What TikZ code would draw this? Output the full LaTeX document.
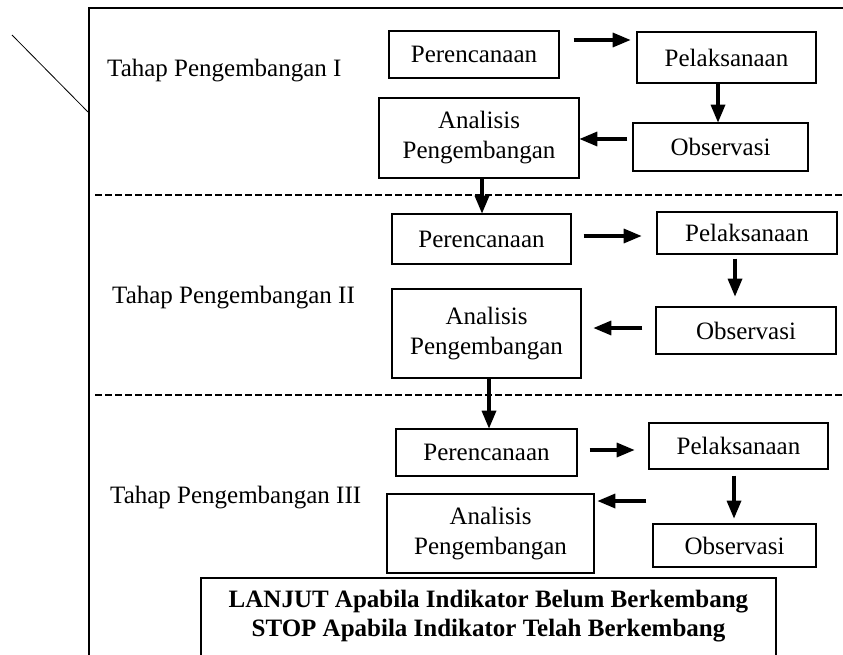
\documentclass[tikz,border=0pt]{standalone}
\usepackage{fontspec}
\setmainfont{Liberation Serif}
\usetikzlibrary{arrows}
\tikzset{
  kotak/.style={draw, line width=1.3pt, inner sep=0, align=center, font=\fontsize{25}{30}\selectfont},
  tahap/.style={anchor=west, inner sep=0, font=\fontsize{25}{30}\selectfont},
  panah/.style={line width=3.2pt, ->, >=triangle 45},
  garis/.style={line width=1.7pt, dash pattern=on 7pt off 3pt}
}

\begin{document}
\begin{tikzpicture}[x=1pt,y=-1pt]
\useasboundingbox (0,0) rectangle (843,655);
\clip (0,0) rectangle (843,655);
\draw[line width=2.4pt] (843,8) -- (89,8) -- (89,670);
\draw[line width=0.8pt] (12,35) -- (88,112);
\draw[garis] (95,195) -- (843,195);
\draw[garis] (95,395) -- (843,395);

% tahap I
\node[tahap] (tahap1) at (107,71) {Tahap Pengembangan I};
\node[kotak, minimum width=170pt, minimum height=47pt] (per1) at (474,54.5) {Perencanaan};
\node[kotak, minimum width=179pt, minimum height=51pt] (pel1) at (726.5,57.5) {Pelaksanaan};
\node[kotak, minimum width=175pt, minimum height=48pt] (obs1) at (720.5,147) {Observasi};
\node[kotak, minimum width=200pt, minimum height=80pt] (ana1) at (479,138) {Analisis\\Pengembangan};
\draw[panah] ([shift={(14,-14.5)}]per1.east) -- ([shift={(-6,-17.5)}]pel1.west);
\draw[panah] ([shift={(-8.5,0)}]pel1.south) -- ([shift={(-2.5,0)}]obs1.north);
\draw[panah] ([shift={(-5,-8)}]obs1.west) -- ([shift={(0,1)}]ana1.east);

% tahap II
\node[tahap] (tahap2) at (112,298) {Tahap Pengembangan II};
\node[kotak, minimum width=179pt, minimum height=50pt] (per2) at (481.5,239) {Perencanaan};
\node[kotak, minimum width=180pt, minimum height=42pt] (pel2) at (747,233) {Pelaksanaan};
\node[kotak, minimum width=180pt, minimum height=47pt] (obs2) at (746,330.5) {Observasi};
\node[kotak, minimum width=189pt, minimum height=89pt] (ana2) at (486.5,333.5) {Analisis\\Pengembangan};
\draw[panah] ([shift={(3,0)}]ana1.south) -- ([shift={(0.5,0)}]per2.north);
\draw[panah] ([shift={(12,-3)}]per2.east) -- ([shift={(-15,3)}]pel2.west);
\draw[panah] ([shift={(-12,4)}]pel2.south) -- ([shift={(-11,-10)}]obs2.north);
\draw[panah] ([shift={(-13,-2.5)}]obs2.west) -- ([shift={(12,-5.5)}]ana2.east);

% tahap III
\node[tahap] (tahap3) at (110,498) {Tahap Pengembangan III};
\node[kotak, minimum width=181pt, minimum height=47pt] (per3) at (486.5,452.5) {Perencanaan};
\node[kotak, minimum width=179pt, minimum height=46pt] (pel3) at (738.5,446) {Pelaksanaan};
\node[kotak, minimum width=163pt, minimum height=43pt] (obs3) at (734.5,545.5) {Observasi};
\node[kotak, minimum width=207pt, minimum height=79pt] (ana3) at (490.5,533.5) {Analisis\\Pengembangan};
\draw[panah] ([shift={(2.5,0)}]ana2.south) -- ([shift={(2.5,0)}]per3.north);
\draw[panah] ([shift={(12,-2.5)}]per3.east) -- ([shift={(-14,4)}]pel3.west);
\draw[panah] ([shift={(-4.5,6)}]pel3.south) -- ([shift={(-0.5,-5)}]obs3.north);
\draw[panah] ([shift={(-6,-44.5)}]obs3.west) -- ([shift={(3,-32.5)}]ana3.east);

% catatan
\draw[line width=1.3pt] (201,578) rectangle (776,680);
\node[inner sep=0, align=center, font=\fontsize{25}{29}\selectfont\bfseries] (catatan) at (488.5,616.5)
  {LANJUT Apabila Indikator Belum Berkembang\\STOP Apabila Indikator Telah Berkembang};
\end{tikzpicture}
\end{document}
